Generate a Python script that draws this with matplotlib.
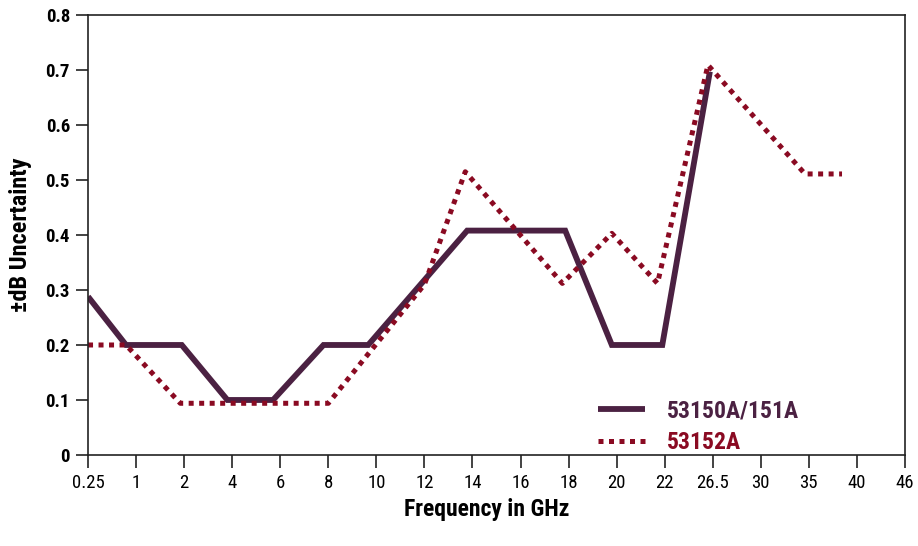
import matplotlib.pyplot as plt

plt.rcParams["font.family"] = ["Roboto Condensed", "DejaVu Sans"]

# tick labels, evenly spaced along x
freq_labels = ["0.25", "1", "2", "4", "6", "8", "10", "12", "14", "16", "18",
               "20", "22", "26.5", "30", "35", "40", "46"]

# 53150A/151A (positions in tick-slot units)
x_151 = [0.0, 0.79, 1.95, 2.9, 3.85, 4.9, 5.83, 7.89, 9.93, 10.9, 11.95, 12.94]
y_151 = [0.288, 0.2, 0.2, 0.1, 0.1, 0.2, 0.2, 0.408, 0.408, 0.2, 0.2, 0.697]

# 53152A
x_152 = [0.0, 0.79, 1.92, 5.0, 7.0, 7.85, 9.87, 10.9, 11.85, 12.9, 14.92, 15.69]
y_152 = [0.2, 0.2, 0.094, 0.094, 0.31, 0.515, 0.312, 0.403, 0.312, 0.709, 0.511, 0.511]

C_151 = "#4b2142"
C_152 = "#8a0a22"

fig = plt.figure(figsize=(9.18, 5.46), dpi=100)
ax = fig.add_axes([0.0959, 0.1667, 0.8899, 0.8058])

ax.plot(x_151, y_151, color=C_151, lw=4.2, solid_joinstyle="miter",
        solid_capstyle="butt", label="53150A/151A")
ax.plot(x_152, y_152, color=C_152, lw=3.6, linestyle=(0, (1, 1.1)),
        dash_capstyle="butt", label="53152A")

ax.set_xlim(0, len(freq_labels) - 1)
ax.set_ylim(0, 0.8)
ax.set_xticks(range(len(freq_labels)))
ax.set_xticklabels(freq_labels, fontsize=13.5)
ax.set_yticks([0, 0.1, 0.2, 0.3, 0.4, 0.5, 0.6, 0.7, 0.8])
ax.set_yticklabels(["0", "0.1", "0.2", "0.3", "0.4", "0.5", "0.6", "0.7", "0.8"],
                   fontsize=13.5, fontweight="bold")
ax.tick_params(axis="both", direction="out", length=9, width=1.2, color="#222222")
ax.tick_params(axis="x", pad=5)
ax.tick_params(axis="y", pad=4)
for s in ax.spines.values():
    s.set_linewidth(1.2)
    s.set_color("#222222")

ax.set_xlabel("Frequency in GHz", fontsize=17, fontweight="bold", labelpad=4)
ax.xaxis.label.set_x(0.488)
ax.set_ylabel("\u00b1dB Uncertainty", fontsize=17.5, fontweight="bold", labelpad=10)

leg = ax.legend(loc="upper left", bbox_to_anchor=(0.598, 0.175), frameon=False,
                fontsize=17, handlelength=2.0, handletextpad=0.93, labelspacing=0.38)
for txt, c in zip(leg.get_texts(), [C_151, C_152]):
    txt.set_color(c)
    txt.set_fontweight("bold")

fig.savefig("out.png", dpi=100)
